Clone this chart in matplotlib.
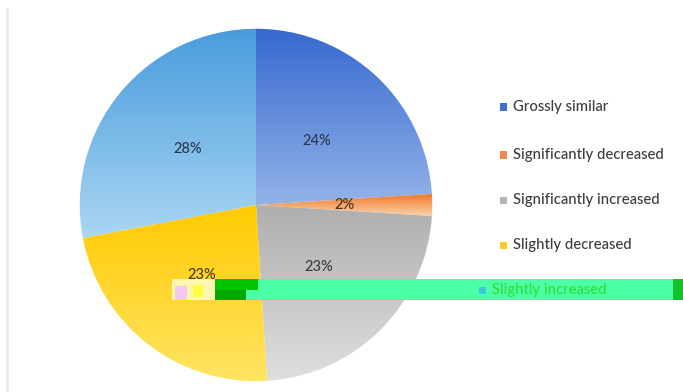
import numpy as np
import matplotlib
matplotlib.use("Agg")
import matplotlib.pyplot as plt
from matplotlib.colors import LinearSegmentedColormap
from matplotlib.patches import Rectangle

plt.rcParams['font.family'] = ['Lato', 'DejaVu Sans']

labels = ["Grossly similar", "Significantly decreased", "Significantly increased",
          "Slightly decreased", "Slightly increased"]
shares = [24, 2, 23, 23, 28]

# top / bottom colours of each slice's vertical gradient
grad_top = ["#3669d0", "#ee7420", "#afafaf", "#ffca00", "#489cdd"]
grad_bottom = ["#93b3e8", "#fbd3ad", "#dfdfdf", "#ffe566", "#aad6f3"]
legend_colors = ["#3f6fc9", "#f08a4b", "#b5b5b5", "#ffc926", "#3ec8e0"]
pct_colors = ["#283650", "#4a3020", "#3a3a3a", "#4a3a10", "#283650"]

W, H = 683, 392
fig = plt.figure(figsize=(W / 100, H / 100), dpi=100)
fig.patch.set_facecolor("white")

# thin grey frame line on the left
fig.add_artist(Rectangle((6 / W, 0), 3 / W, 1 - 8 / H, transform=fig.transFigure,
                         facecolor="#ececec", edgecolor="none"))

cx, cy, rad = 256, H - 205, 178
ax = fig.add_axes([(cx - rad) / W, (cy - rad) / H, 2 * rad / W, 2 * rad / H])
ax.set_aspect("equal")

wedges, _ = ax.pie(shares, startangle=90, counterclock=False, radius=1,
                   wedgeprops=dict(linewidth=0))

ramp = np.linspace(0, 1, 256).reshape(-1, 1)
for w, c0, c1 in zip(wedges, grad_top, grad_bottom):
    w.set_facecolor("none")
    verts = w.get_path().vertices
    x0, x1 = verts[:, 0].min(), verts[:, 0].max()
    y0, y1 = verts[:, 1].min(), verts[:, 1].max()
    cmap = LinearSegmentedColormap.from_list("g", [c0, c1])
    im = ax.imshow(ramp, cmap=cmap, extent=(x0, x1, y0, y1), origin="upper",
                   aspect="auto", interpolation="bicubic", zorder=1)
    im.set_clip_path(w)

ax.set_xlim(-1.01, 1.01)
ax.set_ylim(-1.01, 1.01)

# percentage labels at half radius
angle = 90.0
for s, col in zip(shares, pct_colors):
    mid = np.deg2rad(angle - s * 3.6 / 2)
    angle -= s * 3.6
    ax.text(0.5 * np.cos(mid), 0.5 * np.sin(mid), f"{s}%", ha="center", va="center",
            fontsize=10.5, color=col, fontweight="medium", zorder=3)
ax.axis("off")

# green highlight band across the lower legend row
band_y0, band_h = H - 300, 21
fig.add_artist(Rectangle((258 / W, band_y0 / H), (673 - 258) / W, band_h / H,
                         transform=fig.transFigure, facecolor="#4bffa6", edgecolor="none", zorder=5))
fig.add_artist(Rectangle((246 / W, band_y0 / H), 12 / W, 10 / H,
                         transform=fig.transFigure, facecolor="#4bffa6", edgecolor="none", zorder=5))
fig.add_artist(Rectangle((215 / W, (band_y0 + 10) / H), 43 / W, 11 / H,
                         transform=fig.transFigure, facecolor="#00c400", edgecolor="none", zorder=5))
fig.add_artist(Rectangle((215 / W, band_y0 / H), 31 / W, 10 / H,
                         transform=fig.transFigure, facecolor="#00a800", edgecolor="none", zorder=5))
fig.add_artist(Rectangle((673 / W, band_y0 / H), 10 / W, band_h / H,
                         transform=fig.transFigure, facecolor="#12c02a", edgecolor="none", zorder=5))
fig.add_artist(Rectangle((172 / W, band_y0 / H), 43 / W, band_h / H,
                         transform=fig.transFigure, facecolor="#fff6b0", edgecolor="none", zorder=5))
fig.add_artist(Rectangle((175 / W, band_y0 / H), 12 / W, 14 / H,
                         transform=fig.transFigure, facecolor="#f4c8f0", edgecolor="none", zorder=5))
fig.add_artist(Rectangle((193 / W, (band_y0 + 3) / H), 10 / W, 12 / H,
                         transform=fig.transFigure, facecolor="#ffff40", edgecolor="none", zorder=5))

# legend
legend_y = [107, 155, 200, 245, 290]
for lab, col, y in zip(labels, legend_colors, legend_y):
    last = lab == "Slightly increased"
    mx, tx = (479, 492) if last else (500, 513)
    fig.add_artist(Rectangle((mx / W, (H - y - 3.5) / H), 7 / W, 7 / H,
                             transform=fig.transFigure, facecolor=col, edgecolor="none", zorder=6))
    fig.text(tx / W, (H - y) / H, lab, ha="left", va="center", fontsize=10.7,
             fontweight="medium", color="#33dd33" if last else "#3c3c3c", zorder=6)

fig.savefig("out.png", dpi=100)
